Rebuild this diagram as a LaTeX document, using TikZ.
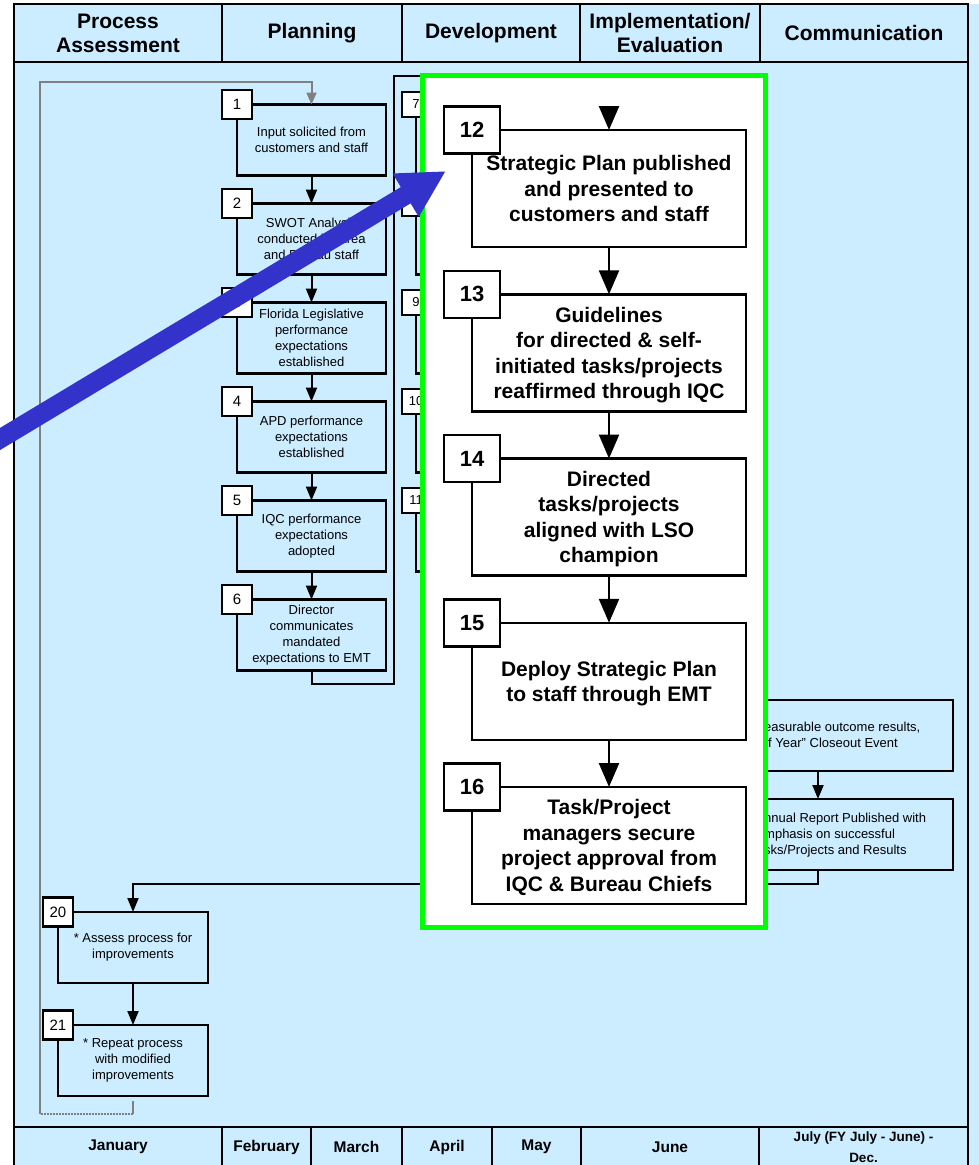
\documentclass[tikz,border=0pt]{standalone}
\usepackage{fontspec}
\setmainfont{Liberation Sans}
\usetikzlibrary{arrows.meta,positioning}

\definecolor{paleblue}{RGB}{204,236,255}
\definecolor{pointer}{RGB}{51,51,204}
\definecolor{lime}{RGB}{0,255,0}
\definecolor{loopgray}{RGB}{128,128,128}

\tikzset{
  cell/.style={draw, line width=2.5pt, fill=paleblue, inner sep=0pt, outer sep=0pt, align=center},
  headcell/.style={cell, minimum height=58pt, font=\bfseries\fontsize{21}{24}\selectfont},
  monthcell/.style={cell, minimum height=40pt, font=\bfseries\fontsize{15.5}{21}\selectfont},
  stepbox/.style={draw, line width=2.5pt, fill=paleblue, minimum width=149pt, minimum height=71pt,
    inner sep=0pt, outer sep=0pt, align=center, font=\fontsize{13}{16}\selectfont},
  steptag/.style={draw, line width=2.5pt, fill=white, minimum width=30pt, minimum height=29pt,
    inner sep=0pt, outer sep=0pt, font=\fontsize{15}{15}\selectfont},
  subtag/.style={steptag, minimum width=28pt, minimum height=25pt, font=\fontsize{13}{13}\selectfont},
  bigbox/.style={draw, line width=2.5pt, fill=white, minimum width=274pt, minimum height=117pt,
    inner sep=0pt, outer sep=0pt, align=center, font=\bfseries\fontsize{21}{25.5}\selectfont,
    text depth=-12pt},
  bigtag/.style={draw, line width=2.5pt, fill=white, minimum width=56pt, minimum height=47pt,
    inner sep=0pt, outer sep=0pt, font=\bfseries\fontsize{22}{22}\selectfont},
  notetext/.style={inner sep=0pt, align=left, font=\fontsize{13}{16}\selectfont},
  flow/.style={line width=2pt, -{Triangle[width=11pt,length=14pt]}},
  bigflow/.style={line width=2.5pt, -{Triangle[width=20pt,length=24pt]}},
  loopline/.style={draw=loopgray, line width=2pt}
}

\begin{document}
\begin{tikzpicture}[x=1pt, y=-1pt]
  \useasboundingbox (0,0) rectangle (979,1165);
  % page and lane frame
  \fill[white] (0,0) rectangle (979,1165);
  \fill[paleblue] (14,4) rectangle (979,1165);
  \draw[line width=2.5pt] (14,62) rectangle (968,1127);

  % phase headers
  \node[headcell, minimum width=208pt] (hAssess) at (118,33) {Process\\Assessment};
  \node[headcell, minimum width=180pt] (hPlan) at (312,33) {Planning};
  \node[headcell, minimum width=178pt] (hDev) at (491,33) {Development};
  \node[headcell, minimum width=180pt] (hImpl) at (670,33) {Implementation/\\Evaluation};
  \node[headcell, minimum width=208pt] (hComm) at (864,33) {Communication};

  % months
  \node[monthcell, minimum width=208pt] (mJan) at (118,1147) {January};
  \node[monthcell, minimum width=89pt] (mFeb) at (266.5,1147) {February};
  \node[monthcell, minimum width=91pt] (mMar) at (356.5,1147) {March};
  \node[monthcell, minimum width=90pt] (mApr) at (447,1147) {April};
  \node[monthcell, minimum width=89pt] (mMay) at (536.5,1147) {May};
  \node[monthcell, minimum width=178pt] (mJun) at (670,1147) {June};
  \node[monthcell, minimum width=209pt, font=\bfseries\fontsize{13.5}{21}\selectfont]
    (mJul) at (863.5,1147) {July (FY July - June) -\\Dec.};

  % planning steps
  \node[stepbox] (b1) at (311.5,140) {Input solicited from\\customers and staff};
  \node[stepbox, below=28pt of b1] (b2) {SWOT Analysis\\conducted by Area\\and Bureau staff};
  \node[stepbox, below=28pt of b2] (b3) {Florida Legislative\\performance\\expectations\\established};
  \node[stepbox, below=28pt of b3] (b4) {APD performance\\expectations\\established};
  \node[stepbox, below=28pt of b4] (b5) {IQC performance\\expectations\\adopted};
  \node[stepbox, below=28pt of b5] (b6) {Director\\communicates\\mandated\\expectations to EMT};
  \foreach \k in {1,...,6}
    \node[steptag] (t\k) at (b\k.north west) {\k};
  \foreach \a/\b in {1/2,2/3,3/4,4/5,5/6}
    \draw[flow] (b\a) -- (b\b);

  % development steps (behind the panel)
  \node[stepbox] (b7) at (490.5,140) {};
  \node[stepbox, below=28pt of b7] (b8) {};
  \node[stepbox, below=28pt of b8] (b9) {};
  \node[stepbox, below=28pt of b9] (b10) {};
  \node[stepbox, below=28pt of b10] (b11) {};
  \foreach \k in {7,...,11}
    \node[subtag] (t\k) at (b\k.north west) {\k};

  % communication steps
  \node[stepbox, minimum width=270pt] (b17) at (818,735.5) {};
  \node[stepbox, minimum width=270pt, below=28pt of b17] (b18) {};
  \node[notetext, anchor=west] (n17) at (764,735) {easurable outcome results,\\\hspace*{4pt}f Year” Closeout Event};
  \node[notetext, anchor=west] (n18) at (764,835) {nnual Report Published with\\mphasis on successful\\sks/Projects and Results};
  \draw[flow] (b17) -- (b18);

  % assessment steps
  \node[stepbox, minimum width=150pt] (b20) at (133,947.5) {* Assess process for\\improvements};
  \node[stepbox, minimum width=150pt, below=42pt of b20] (b21) {* Repeat process\\with modified\\improvements};
  \node[steptag] (t20) at (b20.north west) {20};
  \node[steptag] (t21) at (b21.north west) {21};
  \draw[flow] (b20) -- (b21);

  % hand-offs between lanes
  \coordinate (riser) at (394,76);
  \coordinate (top12) at (609,130);
  \draw[line width=2pt] (b6.south) -- ++(0,13) -| (riser) -| (top12);
  \draw[flow] (b18.south) -- ++(0,14) -| (b20.north);

  % repeat loop back to step 1
  \coordinate (loopA) at (133,1114);
  \coordinate (loopB) at (40,1114);
  \draw[loopline, shorten <=5pt] (b21.south) -- (loopA);
  \draw[loopline, densely dotted] (loopA) -- (loopB);
  \draw[loopline, -{Triangle[width=10pt,length=12pt]}] (loopB) |- ([yshift=23pt]b1.north) -- (b1.north);

  % highlighted panel
  \draw[line width=5pt, draw=lime, fill=white] (422.5,75.5) rectangle (765.5,927.5);
  \node[bigbox] (b12) at (609,188.5) {Strategic Plan published\\and presented to\\customers and staff};
  \node[bigbox, below=47.25pt of b12] (b13) {Guidelines\\for directed \& self-\\initiated tasks/projects\\reaffirmed through IQC};
  \node[bigbox, below=47.25pt of b13] (b14) {Directed\\tasks/projects\\aligned with LSO\\champion};
  \node[bigbox, below=47.25pt of b14] (b15) {Deploy Strategic Plan\\to staff through EMT};
  \node[bigbox, below=47.25pt of b15] (b16) {Task/Project\\managers secure\\project approval from\\IQC \& Bureau Chiefs};
  \foreach \k in {12,...,16}
    \node[bigtag] (t\k) at (b\k.north west) {\k};
  \draw[bigflow] ([yshift=24pt]b12.north) -- (b12.north);
  \foreach \a/\b in {12/13,13/14,14/15,15/16}
    \draw[bigflow] (b\a) -- (b\b);

  % pointer
  \draw[pointer, line width=19pt, -{Triangle[length=47pt,width=47pt]}] (-10,445) -- (446,171);
\end{tikzpicture}
\end{document}
